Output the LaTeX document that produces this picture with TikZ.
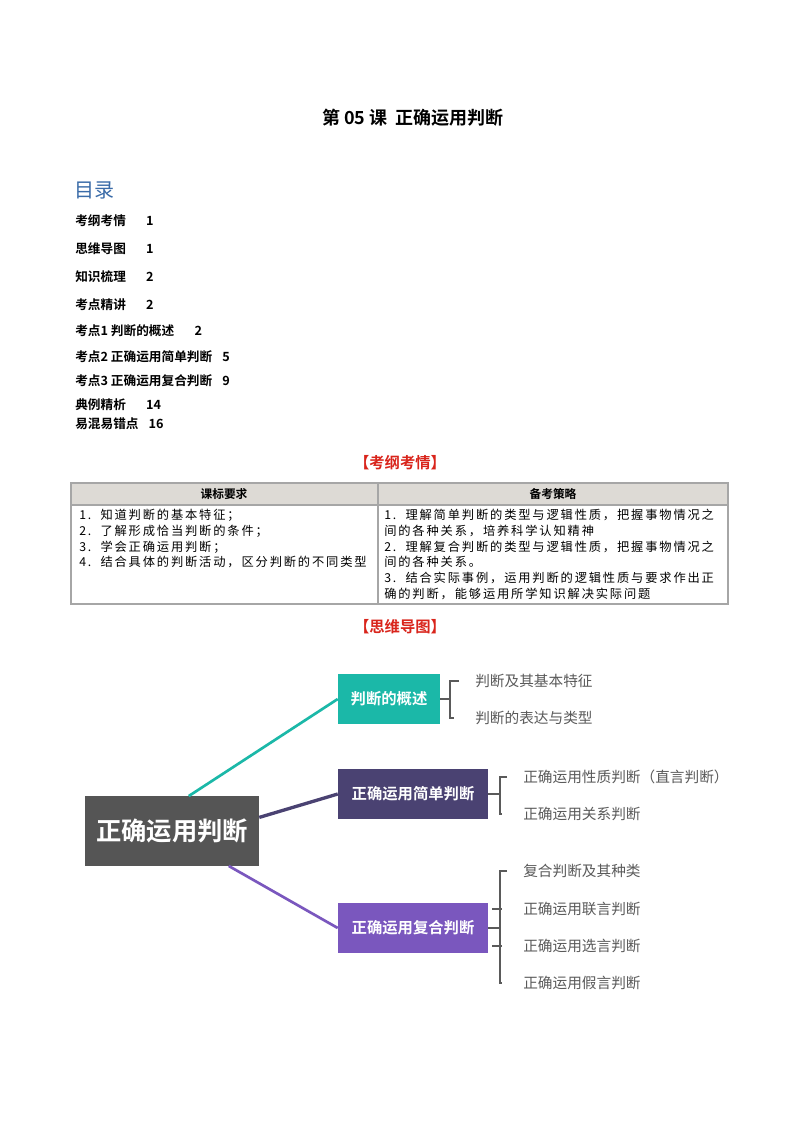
\documentclass[tikz,border=0pt]{standalone}
\usepackage{fontspec}
\setmainfont{Liberation Serif}
\newfontfamily\cjk{Noto Sans CJK SC}
\newfontfamily\cjkw[LetterSpace=15]{Noto Sans CJK SC}
\newfontfamily\cjkb{Noto Sans CJK SC Bold}
\definecolor{teal1}{HTML}{1BB8A8}
\definecolor{dpur}{HTML}{4A4272}
\definecolor{lpur}{HTML}{7A57BE}
\definecolor{cgray}{HTML}{555555}
\definecolor{tgray}{HTML}{5A5A5A}
\definecolor{hdr}{HTML}{DDDAD5}
\definecolor{tocblue}{HTML}{3A6BA8}
\definecolor{redh}{HTML}{D9241B}
\tikzset{
 toc/.style={anchor=west,inner sep=0,font=\cjkb\fontsize{9.5}{11}\selectfont},
 cell/.style={anchor=north west,inner sep=0,align=left,font=\cjkw\fontsize{9.2}{11.8}\selectfont},
 mbox/.style={inner sep=0,text=white,font=\cjkb\fontsize{11.5}{13}\selectfont},
 leaf/.style={anchor=west,inner sep=0,text=tgray,font=\cjk\fontsize{11}{13}\selectfont},
 br/.style={line width=1.5pt,tgray},
}
\begin{document}
\begin{tikzpicture}[x=0.75pt,y=-0.75pt]
\useasboundingbox[fill=white] (0,0) rectangle (800,1132);
\node[font=\cjkb\fontsize{13.5}{15}\selectfont] (title) at (413,118) {第 05 课\ \ 正确运用判断};
\node[anchor=west,inner sep=0,text=tocblue,font=\cjk\fontsize{15}{17}\selectfont] (ml) at (74,190) {目录};
\node[toc] (t1) at (75,221) {考纲考情\hspace{1.6em}1};
\node[toc] (t2) at (75,249) {思维导图\hspace{1.6em}1};
\node[toc] (t3) at (75,277) {知识梳理\hspace{1.6em}2};
\node[toc] (t4) at (75,305) {考点精讲\hspace{1.6em}2};
\node[toc] (t5) at (75,331) {考点1\ 判断的概述\hspace{1.6em}2};
\node[toc] (t6) at (75,357) {考点2\ 正确运用简单判断\hspace{0.8em}5};
\node[toc] (t7) at (75,381) {考点3\ 正确运用复合判断\hspace{0.8em}9};
\node[toc] (t8) at (75,405) {典例精析\hspace{1.6em}14};
\node[toc] (t9) at (75,424) {易混易错点\hspace{0.8em}16};
\node[text=redh,font=\cjkb\fontsize{11.5}{13}\selectfont] (h1) at (400,463) {【考纲考情】};
% table
\fill[hdr] (71,483) rectangle (728,505);
\draw[line width=0.8pt,gray!70] (71,483) rectangle (728,604) (71,505) -- (728,505) (378,483) -- (378,604);
\node[font=\cjkb\fontsize{8.8}{10}\selectfont] (c1) at (224,494) {课标要求};
\node[font=\cjkb\fontsize{8.8}{10}\selectfont] (c2) at (553,494) {备考策略};
\node[cell] (l1) at (79,509) {1.\ \ 知道判断的基本特征；\\2.\ \ 了解形成恰当判断的条件；\\3.\ \ 学会正确运用判断；\\4.\ \ 结合具体的判断活动，区分判断的不同类型};
\node[cell] (r1) at (384,509) {1.\ \ 理解简单判断的类型与逻辑性质，把握事物情况之\\间的各种关系，培养科学认知精神\\2.\ \ 理解复合判断的类型与逻辑性质，把握事物情况之\\间的各种关系。\\3.\ \ 结合实际事例，运用判断的逻辑性质与要求作出正\\确的判断，能够运用所学知识解决实际问题};
\node[text=redh,font=\cjkb\fontsize{11.5}{13}\selectfont] (h2) at (400,627) {【思维导图】};
% mind map
\node[fill=cgray,minimum width=130.5pt,minimum height=52pt,inner sep=0,text=white,font=\cjkb\fontsize{19}{21}\selectfont] (c) at (172,831) {正确运用判断};
\node[mbox,fill=teal1,minimum width=76.5pt,minimum height=37pt] (b1) at (389,699) {判断的概述};
\node[mbox,fill=dpur,minimum width=112.5pt,minimum height=37pt] (b2) at (413,794) {正确运用简单判断};
\node[mbox,fill=lpur,minimum width=112.5pt,minimum height=37pt] (b3) at (413,928) {正确运用复合判断};
\draw[teal1,line width=2pt] ([xshift=78]c.north west) -- (b1.west);
\draw[dpur,line width=2.5pt] ([yshift=-16]c.north east) -- (b2.west);
\draw[lpur,line width=2pt] ([xshift=108]c.south west) -- (b3.west);
% leaves
\node[leaf] (a1) at (475,681) {判断及其基本特征};
\node[leaf] (a2) at (475,718) {判断的表达与类型};
\node[leaf] (s1) at (523,777) {正确运用性质判断（直言判断）};
\node[leaf] (s2) at (523,814) {正确运用关系判断};
\node[leaf] (f1) at (523,871) {复合判断及其种类};
\node[leaf] (f2) at (523,909) {正确运用联言判断};
\node[leaf] (f3) at (523,946) {正确运用选言判断};
\node[leaf] (f4) at (523,983) {正确运用假言判断};
\draw[br] (b1.east) -- ++(10,0);
\draw[br] (a1.west) ++(-16,0) -- ++(-9,0) |- ([xshift=-16]a2.west);
\draw[br] (b2.east) -- ++(12,0);
\draw[br] (s1.west) ++(-16,0) -- ++(-7,0) |- ([xshift=-16]s2.west);
\draw[br] (b3.east) -- ++(12,0);
\draw[br] (f1.west) ++(-16,0) -- ++(-7,0) |- ([xshift=-16]f4.west);
\draw[br] ([xshift=-23]f2.west) -- ([xshift=-16]f2.west);
\draw[br] ([xshift=-23]f3.west) -- ([xshift=-16]f3.west);
\end{tikzpicture}
\end{document}
